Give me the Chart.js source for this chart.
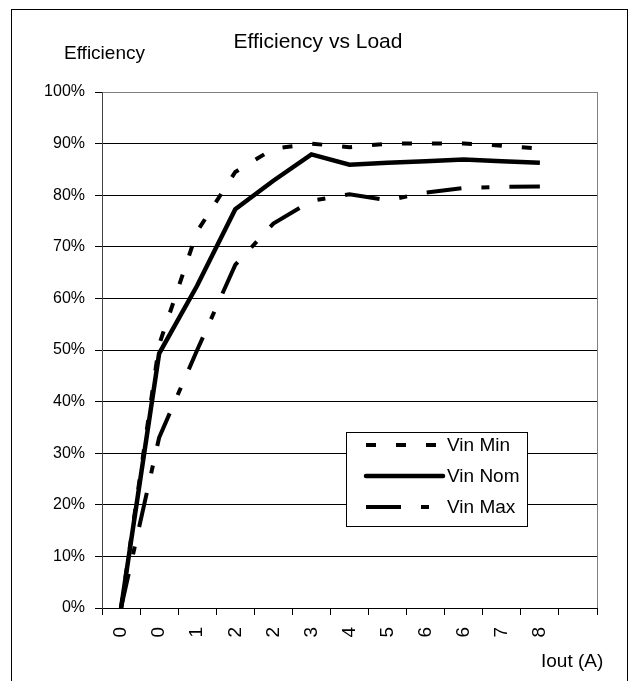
<!DOCTYPE html>
<html>
<head>
<meta charset="utf-8">
<script src="https://cdn.jsdelivr.net/npm/chart.js@4/dist/chart.umd.min.js"></script>
<style>
  html, body { margin: 0; padding: 0; background: #fff; }
  #c { display: block; }
</style>
</head>
<body>
<canvas id="c" width="634" height="681"></canvas>
<script>
// ---- data ----
const categories = ['0', '0', '1', '2', '2', '3', '4', '5', '6', '6', '7', '8', ''];
const vinMin = [0, 51, 73, 84.5, 89, 90, 89.3, 90, 90, 90, 89.6, 89, null];
const vinNom = [0, 49.3, 62.5, 77.3, 82.8, 87.9, 85.9, 86.3, 86.6, 86.9, 86.6, 86.3, null];
const vinMax = [0, 33, 50, 66.5, 74.5, 78.9, 80.2, 79, 80.5, 81.4, 81.6, 81.7, null];
const yTicks = [0, 10, 20, 30, 40, 50, 60, 70, 80, 90, 100];
const titleText = 'Efficiency vs Load';
const yTitleText = 'Efficiency';
const xTitleText = 'Iout (A)';
const seriesNames = ['Vin Min', 'Vin Nom', 'Vin Max'];

const FONT = "'Liberation Sans', Arial, sans-serif";

const decor = {
  id: 'decor',
  afterDraw(chart) {
    const ctx = chart.ctx;
    const ca = chart.chartArea;
    ctx.save();
    // outer frame
    ctx.strokeStyle = '#000';
    ctx.lineWidth = 1;
    ctx.strokeRect(11.5, 9.5, 616, 700);
    // plot area right border
    ctx.strokeStyle = '#808080';
    ctx.beginPath();
    ctx.moveTo(Math.round(ca.right) + 0.5, ca.top);
    ctx.lineTo(Math.round(ca.right) + 0.5, ca.bottom);
    ctx.stroke();
    // texts
    ctx.fillStyle = '#000';
    ctx.textBaseline = 'middle';
    ctx.textAlign = 'center';
    ctx.font = '21px ' + FONT;
    ctx.fillText(titleText, 318, 42);
    ctx.textAlign = 'left';
    ctx.font = '19px ' + FONT;
    ctx.fillText(yTitleText, 64, 54);
    ctx.font = '19px ' + FONT;
    ctx.fillText(xTitleText, 541, 662);
    // legend box
    const bx = 346.5, by = 432.5, bw = 181, bh = 94;
    ctx.fillStyle = '#fff';
    ctx.fillRect(bx, by, bw, bh);
    ctx.strokeStyle = '#000';
    ctx.lineWidth = 1;
    ctx.strokeRect(bx, by, bw, bh);
    const rows = [445, 476, 507];
    chart.data.datasets.forEach((ds, i) => {
      ctx.save();
      ctx.strokeStyle = ds.borderColor;
      ctx.lineWidth = ds.borderWidth;
      ctx.setLineDash(ds.borderDash || []);
      ctx.lineCap = i === 1 ? 'round' : 'butt';
      ctx.beginPath();
      ctx.moveTo(366, rows[i]);
      ctx.lineTo(443, rows[i]);
      ctx.stroke();
      ctx.restore();
      ctx.fillStyle = '#000';
      ctx.font = '19px ' + FONT;
      ctx.textAlign = 'left';
      ctx.textBaseline = 'middle';
      ctx.fillText(ds.label, 447, rows[i] + 1);
    });
    ctx.restore();
  }
};

new Chart(document.getElementById('c'), {
  type: 'line',
  data: {
    labels: categories,
    datasets: [
      { label: seriesNames[0], data: vinMin, borderColor: '#000', borderWidth: 4, borderDash: [10, 20], pointRadius: 0, fill: false, tension: 0 },
      { label: seriesNames[1], data: vinNom, borderColor: '#000', borderWidth: 4.5, borderDash: [], pointRadius: 0, fill: false, tension: 0 },
      { label: seriesNames[2], data: vinMax, borderColor: '#000', borderWidth: 4, borderDash: [35, 20, 8, 20], pointRadius: 0, fill: false, tension: 0 }
    ]
  },
  options: {
    responsive: false,
    animation: false,
    layout: { padding: { top: 92, right: 37, left: 0, bottom: 0 } },
    plugins: {
      legend: { display: false },
      title: { display: false },
      tooltip: { enabled: false }
    },
    scales: {
      x: {
        type: 'category',
        offset: true,
        grid: { offset: true, drawOnChartArea: false, drawTicks: true, tickLength: 7, color: '#000' },
        border: { display: true, color: '#000', width: 1 },
        ticks: { autoSkip: false, maxRotation: 90, minRotation: 90, padding: 12, color: '#000', font: { family: FONT, size: 19 } },
        afterFit(scale) { scale.height = 73; }
      },
      y: {
        min: 0, max: 100,
        afterBuildTicks(scale) { scale.ticks = yTicks.map(v => ({ value: v })); },
        grid: {
          color: (c) => (c.tick && c.tick.value === 100 ? '#808080' : '#000'),
          tickColor: '#000', tickLength: 7, lineWidth: 1
        },
        border: { display: true, color: '#444', width: 1 },
        ticks: { padding: 10, color: '#000', font: { family: FONT, size: 16 }, callback: (v) => v + '%' },
        afterFit(scale) { scale.width = 102; }
      }
    }
  },
  plugins: [decor]
});
</script>
</body>
</html>
